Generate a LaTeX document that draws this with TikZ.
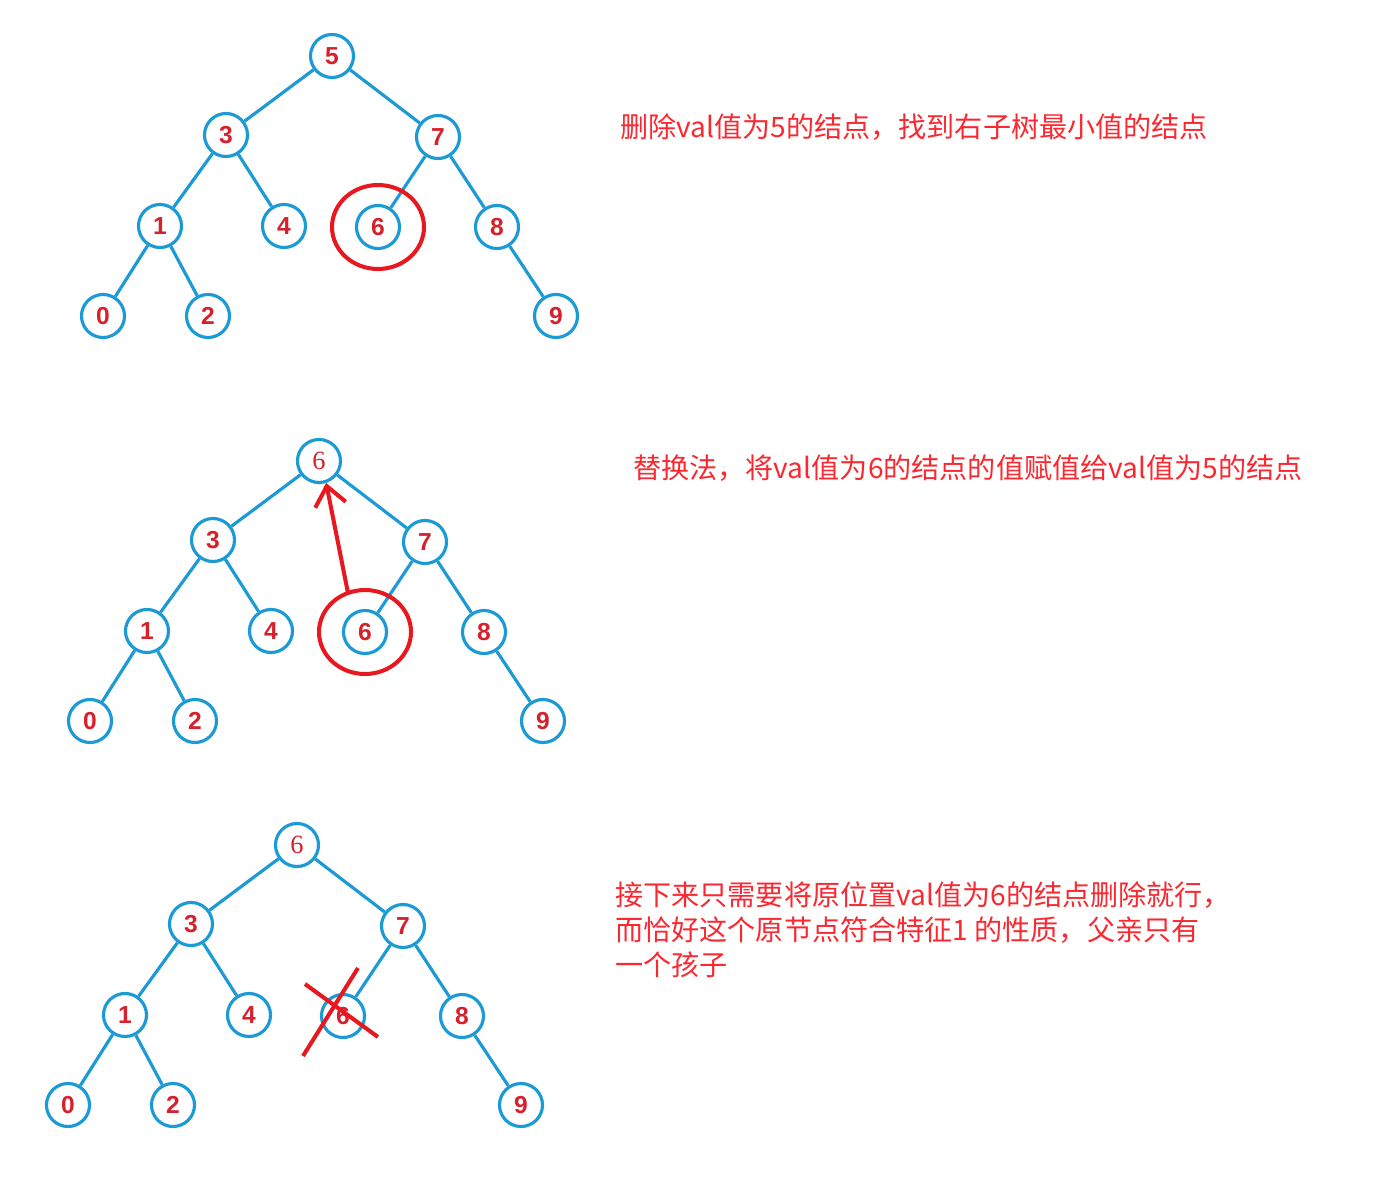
\documentclass[tikz,border=0pt]{standalone}
\usepackage{fontspec}
\usepackage{tikz}
\usetikzlibrary{arrows.meta}
\setmainfont{Liberation Serif}
\newfontfamily\cjk{Noto Sans CJK SC}
\newfontfamily\numfont{Liberation Sans}

\definecolor{treeblue}{RGB}{28,154,214}
\definecolor{labelred}{RGB}{214,32,44}
\definecolor{markred}{RGB}{232,24,32}
\definecolor{notered}{RGB}{250,40,48}

\tikzset{
  treenode/.style={circle, draw=treeblue, line width=1.8pt, minimum size=0.86cm,
    inner sep=0pt, fill=white, text=labelred, font=\numfont\bfseries\fontsize{14}{14}\selectfont},
  newroot/.style={treenode, font=\rmfamily\fontsize{15}{15}\selectfont},
  edge/.style={treeblue, line width=1.8pt},
  redmark/.style={markred, line width=2.3pt},
  note/.style={text=notered, anchor=west, inner sep=0pt, align=left,
    font=\cjk\fontsize{16}{19.8}\selectfont}
}

\begin{document}
\begin{tikzpicture}[x=0.02cm, y=-0.02cm]
    \useasboundingbox (0,0) rectangle (1373,1179);

    % Draw the three trees
    \foreach \t/\dx/\dy/\r/\s in {a/0/0/5/treenode, b/-13/405/6/newroot, c/-35/789/6/newroot} {
      \begin{scope}[shift={(\dx,\dy)}]
        \node[\s] (\t r) at (332,56) {\r};
        \foreach \n/\x/\y in {3/226/135, 7/438/137, 1/160/226, 4/284/226, 6/378/227,
                              8/497/227, 0/103/316, 2/208/316, 9/556/316}
            \node[treenode] (\t\n) at (\x,\y) {\n};
        \foreach \p/\c in {r/3, r/7, 3/1, 3/4, 7/6, 7/8, 1/0, 1/2, 8/9}
            \draw[edge] (\t\p) -- (\t\c);
      \end{scope}
    }

    % Mark the smallest node of the right subtree
    \draw[redmark] (a6) ellipse [x radius=0.92cm, y radius=0.84cm];
    \draw[redmark] (b6) ellipse [x radius=0.92cm, y radius=0.84cm];

    % Draw arrow
    \coordinate (from6) at (348,593);
    \draw[redmark, -{Straight Barb[length=0.38cm, width=0.62cm]}] (from6) -- (br.-72);

    % Cross out the old node
    \coordinate (x1) at (358,968);
    \coordinate (x2) at (303,1056);
    \coordinate (x3) at (305,984);
    \coordinate (x4) at (378,1037);
    \draw[redmark] (x1) -- (x2);
    \draw[redmark] (x3) -- (x4);

    % Notes
    \node[note] (note1) at (620,127) {删除val值为5的结点，找到右子树最小值的结点};
    \node[note] (note2) at (633,468) {替换法，将val值为6的结点的值赋值给val值为5的结点};
    \node[note] (note3) at (615,930) {接下来只需要将原位置val值为6的结点删除就行，\\
      而恰好这个原节点符合特征1 的性质，父亲只有\\
      一个孩子};
\end{tikzpicture}
\end{document}
